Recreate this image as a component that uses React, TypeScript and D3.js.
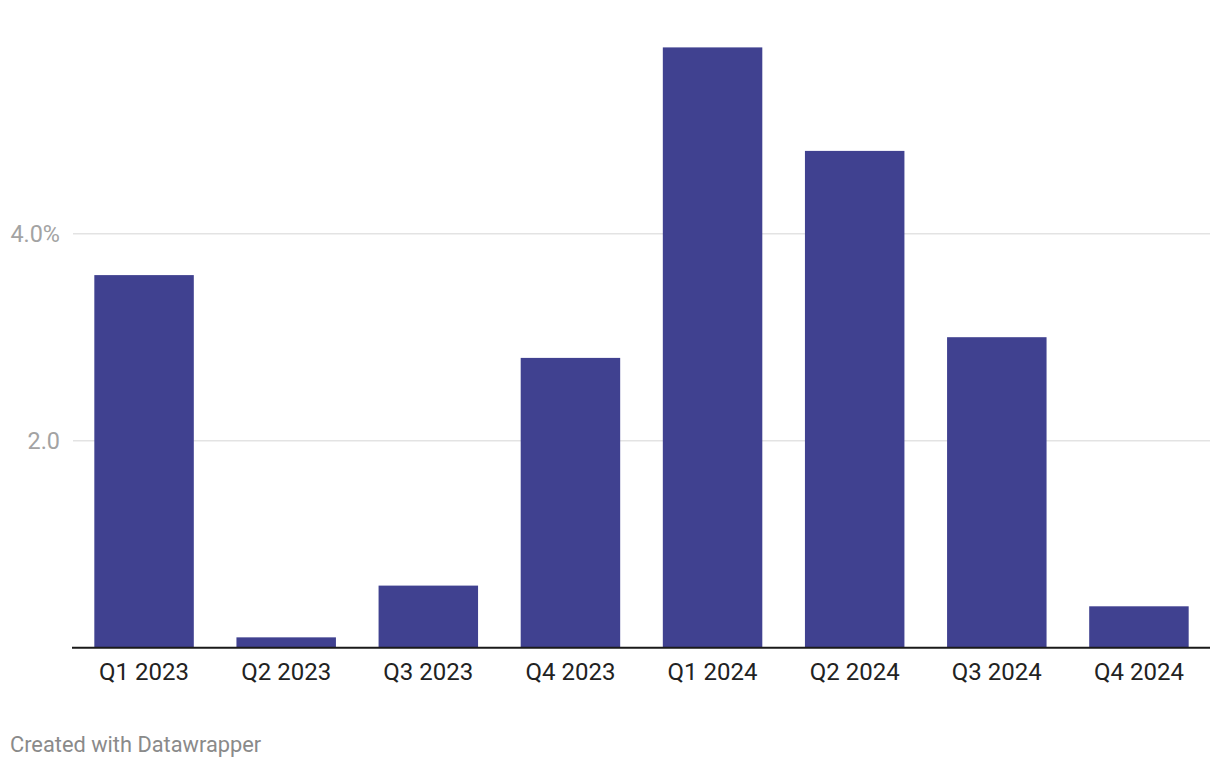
import React from "react";
import * as d3 from "d3";

const categories = ["Q1 2023", "Q2 2023", "Q3 2023", "Q4 2023", "Q1 2024", "Q2 2024", "Q3 2024", "Q4 2024"];
const values = [3.6, 0.1, 0.6, 2.8, 5.8, 4.8, 3.0, 0.4];
const yTicks = [2, 4];
const yTickLabels = ["2.0", "4.0%"];
const footer = "Created with Datawrapper";

const W = 1220;
const H = 768;

export default function App() {
  const x = d3.scaleBand<string>().domain(categories).range([73, 1210]).paddingInner(0.3).paddingOuter(0.15);
  const y = d3.scaleLinear().domain([0, 4]).range([647.7, 233.7]);
  const font = "Roboto, 'Noto Sans', sans-serif";
  return (
    <svg width={W} height={H} style={{ position: "absolute", left: 0, top: 0, background: "#fff" }}>
      {yTicks.map((t, i) => (
        <g key={t}>
          <line x1={73} x2={1210} y1={y(t)} y2={y(t)} stroke="#e3e3e3" strokeWidth={1.5} />
          <text x={60} y={y(t)} dy="0.36em" textAnchor="end" fontFamily={font} fontSize={23.4} fill="#a3a3a3">
            {yTickLabels[i]}
          </text>
        </g>
      ))}
      {categories.map((c, i) => (
        <rect key={c} x={x(c)} width={x.bandwidth()} y={y(values[i])} height={y(0) - y(values[i])} fill="#404190" />
      ))}
      <line x1={72} x2={1210} y1={y(0)} y2={y(0)} stroke="#1a1a1a" strokeWidth={2} />
      {categories.map((c) => (
        <text key={c} x={(x(c) as number) + x.bandwidth() / 2} y={680} textAnchor="middle" fontFamily={font} fontSize={24} fill="#222">
          {c}
        </text>
      ))}
      <text x={10} y={752} fontFamily={font} fontSize={21.8} fill="#8a8a8a">
        {footer}
      </text>
    </svg>
  );
}
